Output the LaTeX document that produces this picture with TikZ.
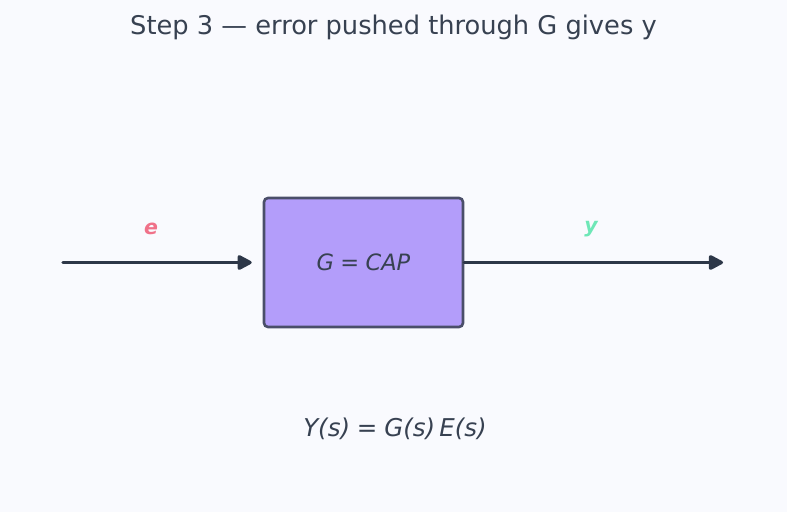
\documentclass[tikz,border=0pt]{standalone}
\usepackage{fontspec}
\setmainfont{DejaVu Sans}
\usetikzlibrary{arrows.meta}
\definecolor{bg}{HTML}{F9FAFE}
\definecolor{txt}{HTML}{374151}
\definecolor{arr}{HTML}{2D3748}
\definecolor{boxfill}{HTML}{B39DFA}
\definecolor{boxdraw}{HTML}{4A4E69}
\definecolor{ecol}{HTML}{F07189}
\definecolor{ycol}{HTML}{6EE7B7}
\tikzset{
  flow/.style={line width=3.2pt, line cap=round, draw=arr, -{Triangle[length=16pt,width=16pt,round]}},
  blockbox/.style={draw=boxdraw, fill=boxfill, line width=2.6pt, rounded corners=4pt, minimum width=199pt, minimum height=129pt, inner sep=0pt},
  siglabel/.style={font=\fontsize{20.5}{24}\selectfont\bfseries\itshape}
}
\begin{document}
\begin{tikzpicture}[x=1pt,y=-1pt]
\path[fill=bg] (0,0) rectangle (787,512);
\useasboundingbox (0,0) rectangle (787,512);
\node[text=txt, font=\fontsize{25.7}{30}\selectfont] (title) at (393.5,27) {Step 3 — error pushed through G gives y};
\node[blockbox, text=txt, font=\fontsize{22.5}{26}\selectfont\itshape] (G) at (363.5,262.5) {G\hspace{0.28em}=\hspace{0.28em}CAP};
\coordinate (ein) at (63,262.5);
\coordinate (yout) at (723,262.5);
\draw[flow, shorten >=-1pt] (ein) -- ([xshift=-12pt]G.west);
\draw[flow] (G.east) -- (yout);
\node[siglabel, text=ecol] (elab) at (151,229) {e};
\node[siglabel, text=ycol] (ylab) at (591,229) {y};
\node[text=txt, font=\fontsize{24.5}{28}\selectfont\itshape] (eq) at (395,429) {Y(s)\hspace{0.28em}=\hspace{0.28em}G(s)\hspace{0.17em}E(s)};
\end{tikzpicture}
\end{document}
